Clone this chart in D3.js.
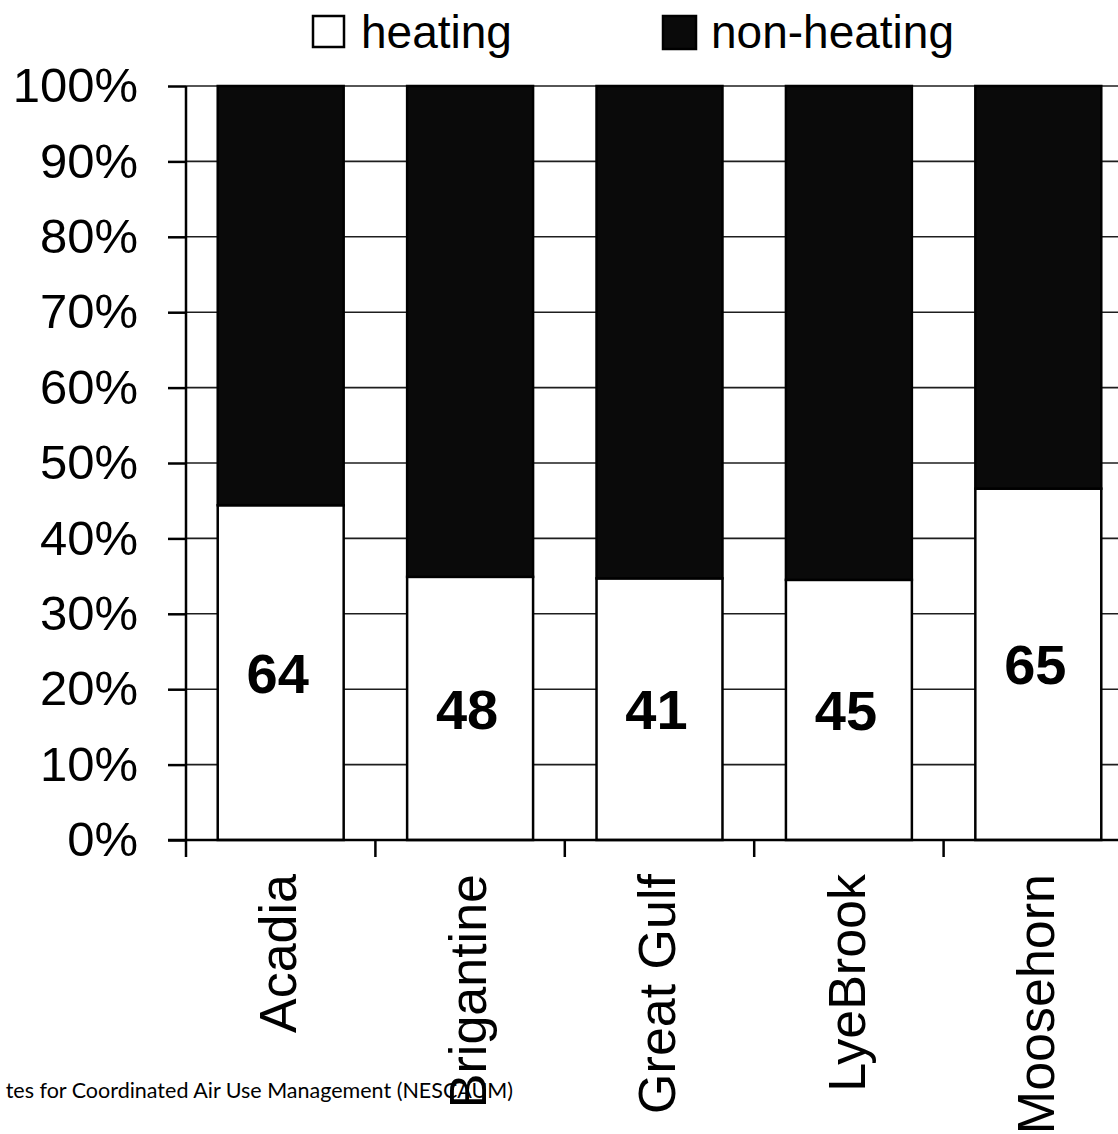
<!DOCTYPE html>
<html>
<head>
<meta charset="utf-8">
<script src="https://cdn.jsdelivr.net/npm/d3@7"></script>
<style>
  html, body { margin: 0; padding: 0; background: #fff; }
  svg { display: block; }
</style>
</head>
<body>
<svg id="chart" width="1118" height="1134"></svg>
<script>
// Monitoring sites
const sites = ["Acadia", "Brigantine", "Great Gulf", "LyeBrook", "Moosehorn"];
// Share of the total (%) attributed to the heating season at each site
const heatingShare = [44.4, 34.9, 34.7, 34.5, 46.6];
// Remaining share (%) from the non-heating season
const nonHeatingShare = [55.6, 65.1, 65.3, 65.5, 53.4];
// Number printed inside each heating segment
const heatingCounts = [64, 48, 41, 45, 65];
// Y axis ticks (%)
const yTicks = [0, 10, 20, 30, 40, 50, 60, 70, 80, 90, 100];
// Legend entries
const seriesNames = ["heating", "non-heating"];
const seriesFill = ["#ffffff", "#0a0a0a"];
// Source line (visible portion)
const sourceText = "tes for Coordinated Air Use Management (NESCAUM)";

const svg = d3.select("#chart");
const W = 1118, H = 1134;

const x0 = 186, x1 = 1133, yTop = 86, yBot = 840;

const x = d3.scaleBand()
  .domain(sites)
  .range([x0, x1])
  .paddingInner(0.335)
  .paddingOuter(0.335 / 2);

const y = d3.scaleLinear().domain([0, 100]).range([yBot, yTop]);

// Horizontal gridlines
svg.append("g")
  .selectAll("line")
  .data(yTicks.filter(d => d > 0))
  .join("line")
  .attr("x1", x0).attr("x2", W)
  .attr("y1", d => y(d)).attr("y2", d => y(d))
  .attr("stroke", "#1e1e1e")
  .attr("stroke-width", 1.6);

// Stacked bars
const rows = sites.map((s, i) => ({ site: s, heating: heatingShare[i], nonheating: nonHeatingShare[i], count: heatingCounts[i] }));
const stack = d3.stack().keys(["heating", "nonheating"]);
const layers = stack(rows);

svg.append("g")
  .selectAll("g")
  .data(layers)
  .join("g")
  .attr("fill", (d, i) => seriesFill[i])
  .selectAll("rect")
  .data(d => d)
  .join("rect")
  .attr("x", d => x(d.data.site))
  .attr("width", x.bandwidth())
  .attr("y", d => y(d[1]))
  .attr("height", d => y(d[0]) - y(d[1]))
  .attr("stroke", "#000")
  .attr("stroke-width", 2.5);

// Counts inside heating segments
svg.append("g")
  .selectAll("text")
  .data(rows)
  .join("text")
  .attr("x", d => x(d.site) + x.bandwidth() / 2 - 3)
  .attr("y", d => (y(0) + y(d.heating)) / 2)
  .attr("dy", "0.36em")
  .attr("text-anchor", "middle")
  .attr("font-family", "Liberation Sans, Arial, sans-serif")
  .attr("font-weight", "bold")
  .attr("font-size", 56)
  .attr("fill", "#000")
  .text(d => d.count);

// Y axis
const yAxis = d3.axisLeft(y)
  .tickValues(yTicks)
  .tickFormat(d => d + "%")
  .tickSize(18)
  .tickPadding(30);
const gy = svg.append("g").attr("transform", `translate(${x0},0)`).call(yAxis);
gy.select(".domain").attr("stroke", "#000").attr("stroke-width", 2.5).attr("d", `M-0,${yTop}V${yBot}`);
gy.selectAll(".tick line").attr("stroke", "#000").attr("stroke-width", 2.5);
gy.selectAll(".tick text")
  .attr("font-family", "Liberation Sans, Arial, sans-serif")
  .attr("font-size", 49)
  .attr("fill", "#000");

// X axis: baseline and category separators
const boundaries = sites.map(s => x(s) - x.step() * x.paddingInner() / 2).concat([x1]);
const gx = svg.append("g");
gx.append("line")
  .attr("x1", x0 - 18).attr("x2", W)
  .attr("y1", yBot).attr("y2", yBot)
  .attr("stroke", "#000").attr("stroke-width", 2.5);
gx.selectAll("line.sep")
  .data(boundaries)
  .join("line")
  .attr("class", "sep")
  .attr("x1", d => d).attr("x2", d => d)
  .attr("y1", yBot).attr("y2", yBot + 17)
  .attr("stroke", "#000").attr("stroke-width", 2.5);

// Rotated site names
gx.selectAll("text")
  .data(sites)
  .join("text")
  .attr("transform", d => `translate(${x(d) + x.bandwidth() / 2 - 3},${yBot + 34}) rotate(-90)`)
  .attr("dy", "0.36em")
  .attr("text-anchor", "end")
  .attr("font-family", "Liberation Sans, Arial, sans-serif")
  .attr("font-size", 52)
  .attr("fill", "#000")
  .text(d => d);

// Legend
const legend = svg.append("g");
const legendPos = [313, 663];
seriesNames.forEach((name, i) => {
  legend.append("rect")
    .attr("x", legendPos[i]).attr("y", 16)
    .attr("width", 31 + i * 2).attr("height", 31 + i * 2)
    .attr("fill", seriesFill[i])
    .attr("stroke", "#000").attr("stroke-width", 2.5);
  legend.append("text")
    .attr("x", legendPos[i] + 48).attr("y", 31)
    .attr("dy", "0.36em")
    .attr("font-family", "Liberation Sans, Arial, sans-serif")
    .attr("font-size", 46)
    .attr("fill", "#000")
    .text(name);
});

// Source line
svg.append("text")
  .attr("x", 513).attr("y", 1098)
  .attr("text-anchor", "end")
  .attr("font-family", "Lato, 'Open Sans', sans-serif")
  .attr("font-size", 21.5)
  .attr("fill", "#000")
  .text(sourceText);
</script>
</body>
</html>
